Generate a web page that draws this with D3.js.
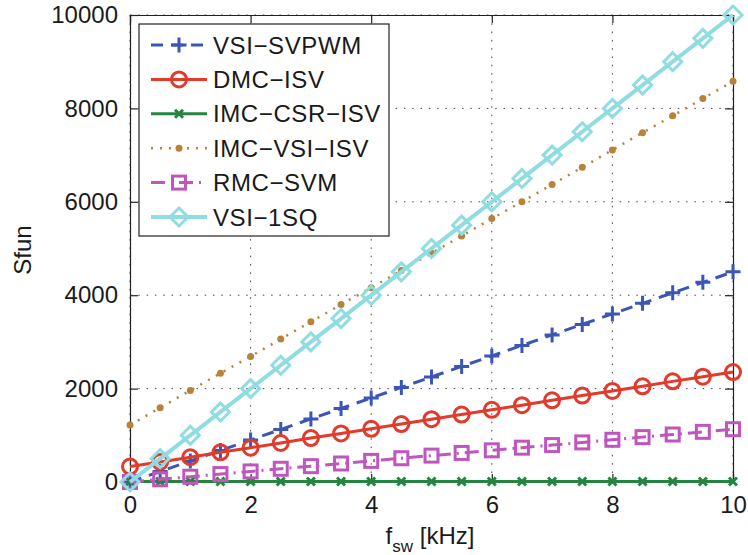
<!DOCTYPE html>
<html>
<head>
<meta charset="utf-8">
<script src="https://cdn.jsdelivr.net/npm/d3@7"></script>
<style>
  html, body { margin: 0; padding: 0; background: #fff; }
  svg { display: block; font-family: "Liberation Sans", Arial, sans-serif; }
</style>
</head>
<body>
<svg id="chart" width="748" height="555"></svg>
<script>
// Switching frequency samples (kHz)
const fsw = [0, 0.5, 1, 1.5, 2, 2.5, 3, 3.5, 4, 4.5, 5, 5.5, 6, 6.5, 7, 7.5, 8, 8.5, 9, 9.5, 10];

// Sfun per topology / modulation
const vsiSvpwm = [0, 225, 450, 675, 900, 1125, 1350, 1575, 1800, 2025, 2250, 2475, 2700, 2925, 3150, 3375, 3600, 3825, 4050, 4275, 4500];
const dmcIsv   = [330, 430, 530, 635, 735, 835, 940, 1040, 1140, 1240, 1345, 1445, 1545, 1645, 1750, 1850, 1950, 2050, 2155, 2255, 2355];
const imcCsrIsv = [10, 10, 10, 10, 10, 10, 10, 10, 10, 10, 10, 10, 10, 10, 10, 10, 10, 10, 10, 10, 10];
const imcVsiIsv = [1220, 1590, 1960, 2330, 2690, 3060, 3430, 3800, 4160, 4530, 4900, 5270, 5640, 6000, 6370, 6740, 7110, 7480, 7840, 8210, 8580];
const rmcSvm   = [0, 57, 113, 170, 226, 283, 339, 396, 452, 509, 565, 622, 678, 735, 791, 848, 904, 961, 1017, 1074, 1130];
const vsi1sq   = [0, 500, 1000, 1500, 2000, 2500, 3000, 3500, 4000, 4500, 5000, 5500, 6000, 6500, 7000, 7500, 8000, 8500, 9000, 9500, 10000];

const seriesNames = ["VSI\u2212SVPWM", "DMC\u2212ISV", "IMC\u2212CSR\u2212ISV", "IMC\u2212VSI\u2212ISV", "RMC\u2212SVM", "VSI\u22121SQ"];
const xTicks = [0, 2, 4, 6, 8, 10];
const yTicks = [0, 2000, 4000, 6000, 8000, 10000];

const styles = [
  { color: "#3b56b4", width: 3, dash: "12,8", marker: "plus" },
  { color: "#e23a2b", width: 3, dash: null, marker: "circle" },
  { color: "#25843f", width: 3, dash: null, marker: "cross" },
  { color: "#b8823a", width: 2.5, dash: "2,7", marker: "dot" },
  { color: "#c155be", width: 3, dash: "14,6,2,6", marker: "square" },
  { color: "#8fdce3", width: 4, dash: null, marker: "diamond" }
];
const seriesValues = [vsiSvpwm, dmcIsv, imcCsrIsv, imcVsiIsv, rmcSvm, vsi1sq];

const svg = d3.select("#chart");
const L = 130, R = 733, T = 15, B = 482;

const x = d3.scaleLinear().domain([0, 10]).range([L, R]);
const y = d3.scaleLinear().domain([0, 10000]).range([B, T]);

// Dotted grid
const grid = svg.append("g");
xTicks.forEach(t => {
  grid.append("line").attr("x1", x(t)).attr("x2", x(t)).attr("y1", T).attr("y2", B)
    .attr("stroke", "#444").attr("stroke-width", 1).attr("stroke-dasharray", "1.5,6.8");
});
yTicks.forEach(t => {
  grid.append("line").attr("x1", L).attr("x2", R).attr("y1", y(t)).attr("y2", y(t))
    .attr("stroke", "#444").attr("stroke-width", 1).attr("stroke-dasharray", "1.5,6.8");
});

// Axes (ticks pointing inward, boxed frame)
const fontSize = 24;
const xAxis = svg.append("g").attr("transform", `translate(0,${B})`)
  .call(d3.axisBottom(x).tickValues(xTicks).tickSize(-8).tickPadding(14).tickFormat(d3.format("d")));
const xAxisTop = svg.append("g").attr("transform", `translate(0,${T})`)
  .call(d3.axisTop(x).tickValues(xTicks).tickSize(-8).tickFormat(""));
const yAxis = svg.append("g").attr("transform", `translate(${L},0)`)
  .call(d3.axisLeft(y).tickValues(yTicks).tickSize(-8).tickPadding(12).tickFormat(d3.format("d")));
const yAxisRight = svg.append("g").attr("transform", `translate(${R},0)`)
  .call(d3.axisRight(y).tickValues(yTicks).tickSize(-8).tickFormat(""));
[xAxis, xAxisTop, yAxis, yAxisRight].forEach(g => {
  g.selectAll("path").attr("stroke", "#222").attr("stroke-width", 1.2);
  g.selectAll("line").attr("stroke", "#222").attr("stroke-width", 1.2);
  g.selectAll("text").attr("font-size", fontSize).attr("fill", "#1a1a1a")
    .attr("font-family", "Liberation Sans, Arial, sans-serif");
});

// Marker drawing
function drawMarker(g, type, cx, cy, color) {
  switch (type) {
    case "plus":
      g.append("path").attr("d", `M${cx - 7.5},${cy}H${cx + 7.5}M${cx},${cy - 7.5}V${cy + 7.5}`)
        .attr("stroke", color).attr("stroke-width", 3).attr("fill", "none");
      break;
    case "circle":
      g.append("circle").attr("cx", cx).attr("cy", cy).attr("r", 7.5)
        .attr("stroke", color).attr("stroke-width", 3).attr("fill", "none");
      break;
    case "cross":
      g.append("path").attr("d", `M${cx - 4},${cy - 4}L${cx + 4},${cy + 4}M${cx - 4},${cy + 4}L${cx + 4},${cy - 4}`)
        .attr("stroke", color).attr("stroke-width", 3).attr("fill", "none");
      break;
    case "dot":
      g.append("circle").attr("cx", cx).attr("cy", cy).attr("r", 3.5).attr("fill", color);
      break;
    case "square":
      g.append("rect").attr("x", cx - 6.5).attr("y", cy - 6.5).attr("width", 13).attr("height", 13)
        .attr("stroke", color).attr("stroke-width", 3).attr("fill", "none");
      break;
    case "diamond":
      g.append("path").attr("d", `M${cx},${cy - 9}L${cx + 9},${cy}L${cx},${cy + 9}L${cx - 9},${cy}Z`)
        .attr("stroke", color).attr("stroke-width", 3).attr("fill", "none");
      break;
  }
}

// Series lines and markers
const plot = svg.append("g");
const line = d3.line().x(d => x(d[0])).y(d => y(d[1]));
seriesValues.forEach((vals, i) => {
  const st = styles[i];
  const pts = fsw.map((f, j) => [f, vals[j]]);
  const g = plot.append("g");
  g.append("path").datum(pts).attr("d", line)
    .attr("fill", "none").attr("stroke", st.color).attr("stroke-width", st.width)
    .attr("stroke-dasharray", st.dash);
  pts.forEach(p => drawMarker(g, st.marker, x(p[0]), y(p[1]), st.color));
});

// Legend
const lg = svg.append("g");
lg.append("rect").attr("x", 139).attr("y", 24).attr("width", 250).attr("height", 212)
  .attr("fill", "#fff").attr("stroke", "#222").attr("stroke-width", 1.2);
const rowY0 = 45, rowStep = 34.4;
seriesNames.forEach((name, i) => {
  const st = styles[i];
  const cy = rowY0 + i * rowStep;
  lg.append("line").attr("x1", 151).attr("x2", 207).attr("y1", cy).attr("y2", cy)
    .attr("stroke", st.color).attr("stroke-width", st.width).attr("stroke-dasharray", st.dash);
  drawMarker(lg, st.marker, 179, cy, st.color);
  lg.append("text").attr("x", 213).attr("y", cy).attr("dy", "0.36em")
    .attr("font-size", 24).attr("letter-spacing", 0.6).attr("fill", "#1a1a1a").text(name);
});

// Axis titles
svg.append("text").attr("transform", "translate(31,250) rotate(-90)")
  .attr("text-anchor", "middle").attr("font-size", 24).attr("fill", "#1a1a1a").text("Sfun");
const xl = svg.append("text").attr("x", 430).attr("y", 544).attr("text-anchor", "middle")
  .attr("font-size", 24).attr("fill", "#1a1a1a");
xl.append("tspan").text("f");
xl.append("tspan").attr("font-size", 17).attr("dy", 8).text("sw");
xl.append("tspan").attr("dy", -8).text(" [kHz]");
</script>
</body>
</html>
